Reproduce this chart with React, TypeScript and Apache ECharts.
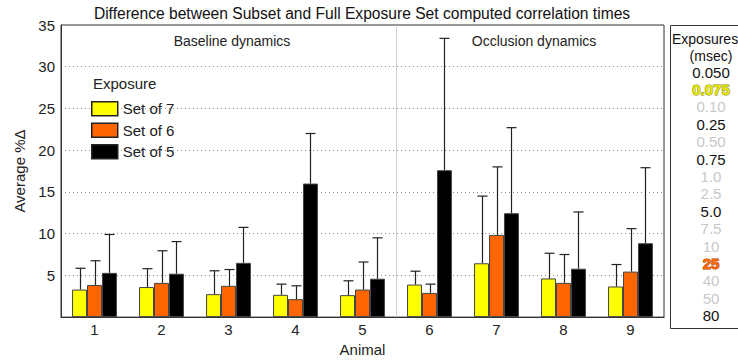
import React, { useEffect, useRef } from "react";
import * as echarts from "echarts";

const animals = ["1", "2", "3", "4", "5", "6", "7", "8", "9"];
const seriesNames = ["Set of 7", "Set of 6", "Set of 5"];
const set7 = [3.3, 3.6, 2.75, 2.67, 2.63, 3.9, 6.45, 4.63, 3.67];
const set7Err = [5.85, 5.8, 5.55, 3.95, 4.35, 5.5, 14.5, 7.65, 6.3];
const set6 = [3.85, 4.1, 3.75, 2.15, 3.3, 2.9, 9.85, 4.1, 5.45];
const set6Err = [6.75, 7.95, 5.7, 3.75, 6.6, 3.95, 18.0, 7.5, 10.6];
const set5 = [5.3, 5.2, 6.5, 16.0, 4.6, 17.6, 12.45, 5.8, 8.85];
const set5Err = [9.9, 9.05, 10.75, 22.0, 9.5, 33.4, 22.7, 12.6, 17.9];
const dividerAt = 4.5;
const exposureLabels = ["0.050", "0.075", "0.10", "0.25", "0.50", "0.75", "1.0", "2.5", "5.0", "7.5", "10", "25", "40", "50", "80"];
const exposureState = ["used", "set7", "off", "used", "off", "used", "off", "off", "used", "off", "off", "set6", "off", "off", "used"];

const FONT = "Liberation Sans, Arial, sans-serif";
const colors = ["#ffff00", "#ff6600", "#000000"];

export default function App() {
  const ref = useRef<HTMLDivElement>(null);
  useEffect(() => {
    document.body.style.margin = "0";
    const chart = echarts.init(ref.current!, undefined, { renderer: "svg" });
    const values = [set7, set6, set5];
    const errs = [set7Err, set6Err, set5Err];

    const barSeries: any[] = values.map((vals, i) => ({
      type: "bar",
      name: seriesNames[i],
      data: vals,
      barGap: "0%",
      barCategoryGap: "33%",
      itemStyle: { color: colors[i], borderColor: "#444", borderWidth: 1 },
    }));

    const errSeries = values.map((vals, i) => ({
      type: "custom",
      name: "err" + i,
      data: vals.map((v, k) => [k, v, errs[i][k]]),
      z: 3,
      renderItem: (params: any, api: any) => {
        const k = api.value(0);
        const base = api.coord([k, api.value(1)]);
        const top = api.coord([k, api.value(2)]);
        const band = api.size([1, 0])[0];
        const bw = (band * 0.67) / 3;
        const x = Math.round(base[0] + (i - 1) * bw) + 0.5;
        const stroke = { stroke: "#222", lineWidth: 1.2 };
        return {
          type: "group",
          children: [
            { type: "line", shape: { x1: x, y1: base[1], x2: x, y2: top[1] }, style: stroke },
            { type: "line", shape: { x1: x - 5, y1: top[1], x2: x + 5, y2: top[1] }, style: stroke },
          ],
        };
      },
    }));

    const dividerSeries = {
      type: "custom",
      name: "divider",
      data: [[dividerAt]],
      z: 1,
      silent: true,
      renderItem: (params: any, api: any) => {
        const left = api.coord([Math.floor(api.value(0)), 0]);
        const band = api.size([1, 0])[0];
        const x = Math.round(left[0] + band / 2) + 0.5;
        const cs = params.coordSys;
        return {
          type: "line",
          shape: { x1: x, y1: cs.y, x2: x, y2: cs.y + cs.height },
          style: { stroke: "#cfcfcf", lineWidth: 1 },
        };
      },
    };

    const panelX = 670;
    const panelCx = 711;
    const exposureTexts = exposureLabels.map((t, j) => {
      const st = exposureState[j];
      let style: any = { text: t, font: `15px ${FONT}`, fill: "#111", align: "center", verticalAlign: "middle" };
      if (st === "off") style.fill = "#c8c8c8";
      if (st === "set7") style = { ...style, fill: "#e8e800", font: `bold 15px ${FONT}`, stroke: "#8a8a00", lineWidth: 1 };
      if (st === "set6") style = { ...style, fill: "#ff6a00", font: `bold 15px ${FONT}`, stroke: "#a84000", lineWidth: 1 };
      return { type: "text", x: panelCx, y: 72 + j * 17.4, style };
    });

    chart.setOption({
      animation: false,
      textStyle: { fontFamily: FONT },
      grid: { left: 61, right: 74, top: 25, bottom: 34, show: true, borderColor: "#333", borderWidth: 1 },
      legend: {
        data: seriesNames,
        orient: "vertical",
        left: 86,
        top: 96,
        itemWidth: 26,
        itemHeight: 14,
        itemGap: 6,
        icon: "rect",
        itemStyle: { borderColor: "#222", borderWidth: 1.5 },
        textStyle: { fontSize: 15, color: "#222", fontFamily: FONT },
        selectedMode: false,
      },
      xAxis: {
        type: "category",
        data: animals,
        name: "Animal",
        nameLocation: "middle",
        nameGap: 18,
        nameTextStyle: { fontSize: 15, color: "#222" },
        axisLine: { lineStyle: { color: "#333" } },
        axisTick: { show: false },
        axisLabel: { fontSize: 15, color: "#222", margin: 5 },
        splitLine: { show: false },
      },
      yAxis: {
        type: "value",
        min: 0,
        max: 35,
        interval: 5,
        name: "Average %Δ",
        nameLocation: "middle",
        nameGap: 31,
        nameTextStyle: { fontSize: 15, color: "#222" },
        axisLine: { show: true, lineStyle: { color: "#333" } },
        axisTick: { show: false },
        axisLabel: { fontSize: 15, color: "#222", margin: 6, formatter: (v: number) => (v === 0 ? "" : String(v)) },
        splitLine: { show: true, lineStyle: { color: "#888", type: [1, 3], width: 1 } },
      },
      series: [dividerSeries, ...barSeries, ...errSeries],
      graphic: [
        { type: "text", x: 362, y: 13, style: { text: "Difference between Subset and Full Exposure Set computed correlation times", font: `15.6px ${FONT}`, fill: "#111", align: "center", verticalAlign: "middle" } },
        { type: "text", x: 232, y: 41, style: { text: "Baseline dynamics", font: `14px ${FONT}`, fill: "#222", align: "center", verticalAlign: "middle" } },
        { type: "text", x: 534, y: 41, style: { text: "Occlusion dynamics", font: `14px ${FONT}`, fill: "#222", align: "center", verticalAlign: "middle" } },
        { type: "text", x: 93, y: 83, style: { text: "Exposure", font: `15px ${FONT}`, fill: "#222", align: "left", verticalAlign: "middle" } },
        { type: "rect", shape: { x: panelX + 0.5, y: 25.5, width: 100, height: 303 }, style: { fill: "none", stroke: "#333", lineWidth: 1 } },
        { type: "text", x: 672, y: 39, style: { text: "Exposures", font: `14px ${FONT}`, fill: "#111", align: "left", verticalAlign: "middle" } },
        { type: "text", x: panelCx, y: 56, style: { text: "(msec)", font: `14px ${FONT}`, fill: "#111", align: "center", verticalAlign: "middle" } },
        ...exposureTexts,
      ],
    });
    return () => chart.dispose();
  }, []);
  return <div ref={ref} style={{ width: 738, height: 362 }} />;
}
